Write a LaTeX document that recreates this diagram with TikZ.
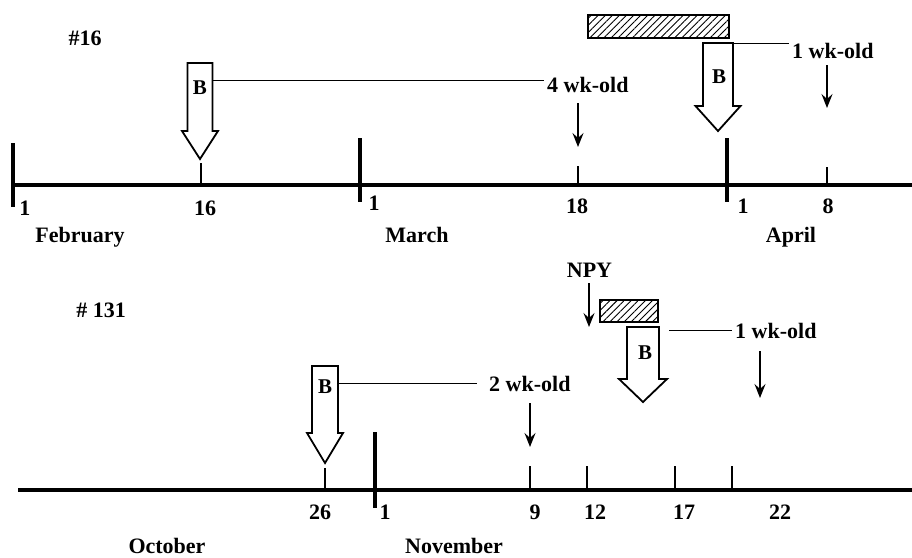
\documentclass[tikz,border=0pt]{standalone}
\usepackage{fontspec}
\setmainfont{Liberation Serif}
\usetikzlibrary{arrows.meta,patterns.meta}
\tikzset{
  axisline/.style={line width=4.5pt},
  bigtick/.style={line width=3.5pt},
  smalltick/.style={line width=1.5pt},
  hollow/.style={line width=1.8pt, fill=white, line join=miter},
  lead/.style={line width=1pt},
  pointer/.style={line width=1.6pt, -{Stealth[length=14pt,width=11pt,inset=5pt]}},
  hatch/.style={draw, line width=2pt, inner sep=0pt, anchor=north west,
    pattern={Lines[angle=45,distance=5pt,line width=0.9pt]}},
  lbl/.style={font=\bfseries\fontsize{22}{24}\selectfont, inner sep=0pt, anchor=base},
  lblw/.style={lbl, anchor=base west},
  bl/.style={font=\bfseries\fontsize{21}{23}\selectfont, inner sep=0pt, anchor=base}
}
\newcommand\hollowarrow[6]{% cx, top, shaft bottom, tip, half shaft, half head
  \draw[hollow] (#1-#5,#2) -- (#1+#5,#2) -- (#1+#5,#3) -- (#1+#6,#3) -- (#1,#4)
     -- (#1-#6,#3) -- (#1-#5,#3) -- cycle;}
\begin{document}
\begin{tikzpicture}[x=1pt,y=-1pt]
\useasboundingbox (0,0) rectangle (912,557);

% ===== Top: #16 =====
\node[lbl] (t16) at (85,45) {\#16};
\draw[axisline] (13,185) coordinate (ta0) -- (912,185) coordinate (ta1);
\draw[bigtick] (13,143) coordinate (tf1a) -- (13,207) coordinate (tf1b);
\draw[bigtick] (360,138) coordinate (tm1a) -- (360,202) coordinate (tm1b);
\draw[bigtick] (727,138) coordinate (tp1a) -- (727,202) coordinate (tp1b);
\draw[smalltick] (201,163) coordinate (t16a) -- (201,185);
\draw[smalltick] (578,166) coordinate (t18a) -- (578,185);
\draw[smalltick] (827,167) coordinate (t8a) -- (827,185);

\node[lbl] (n1f) at (25,215) {1};
\node[lbl] (n16) at (205,215) {16};
\node[lbl] (n1m) at (374,210) {1};
\node[lbl] (n18) at (577,213) {18};
\node[lbl] (n1a) at (743,213) {1};
\node[lbl] (n8) at (828,213) {8};
\node[lbl] (feb) at (80,242) {February};
\node[lbl] (mar) at (417,242) {March};
\node[lbl] (apr) at (791,242) {April};

% hatched bar
\node[hatch, minimum width=141pt, minimum height=23pt] (bar1) at (588,15) {};

% big arrow B (Feb 16)
\hollowarrow{200}{63}{131}{159}{12.5}{18}
\node[bl] (b1) at (200,94) {B};
\coordinate (b1r) at (212.5,80);
\node[lblw] (w4) at (547,92) {4 wk-old};
\coordinate (b1e) at (544,80);
\draw[lead] (b1r) -- (b1e);
\coordinate (p4a) at (578,103);
\coordinate (p4b) at (578,147);
\draw[pointer] (p4a) -- (p4b);

% big arrow B (March end)
\hollowarrow{718}{43}{106}{131}{15}{22.5}
\node[bl] (b2) at (719,83) {B};
\coordinate (b2r) at (733,43);
\node[lblw] (w1) at (792,58) {1 wk-old};
\coordinate (b2e) at (789,43);
\draw[lead] (b2r) -- (b2e);
\coordinate (p1a) at (827,65);
\coordinate (p1b) at (827,108);
\draw[pointer] (p1a) -- (p1b);

% ===== Bottom: # 131 =====
\node[lbl] (t131) at (101,317) {\# 131};
\draw[axisline] (18,490) coordinate (ba0) -- (912,490) coordinate (ba1);
\draw[bigtick] (375,432) coordinate (bn1a) -- (375,508) coordinate (bn1b);
\draw[smalltick] (325,468) coordinate (b26a) -- (325,490);
\draw[smalltick] (530,466) coordinate (b9a) -- (530,490);
\draw[smalltick] (587,466) coordinate (b12a) -- (587,490);
\draw[smalltick] (675,466) coordinate (b17a) -- (675,490);
\draw[smalltick] (732,466) coordinate (b22a) -- (732,490);

\node[lbl] (m26) at (320,519) {26};
\node[lbl] (m1) at (385,519) {1};
\node[lbl] (m9) at (535,519) {9};
\node[lbl] (m12) at (595,519) {12};
\node[lbl] (m17) at (684,519) {17};
\node[lbl] (m22) at (780,519) {22};
\node[lbl] (oct) at (167,553) {October};
\node[lbl] (nov) at (454,553) {November};

% hatched bar
\node[hatch, minimum width=58pt, minimum height=22pt] (bar2) at (599,299) {};

% NPY
\node[lbl] (npy) at (589.5,277) {NPY};
\coordinate (pna) at (589,283);
\coordinate (pnb) at (589,327);
\draw[pointer] (pna) -- (pnb);

% big arrow B (Oct 26)
\hollowarrow{325}{366}{433}{463}{13}{18}
\node[bl] (b3) at (325,393) {B};
\coordinate (b3r) at (338,383);
\node[lblw] (w2) at (489,391) {2 wk-old};
\coordinate (b3e) at (477,383);
\draw[lead] (b3r) -- (b3e);
\coordinate (p2a) at (530,403);
\coordinate (p2b) at (530,447);
\draw[pointer] (p2a) -- (p2b);

% big arrow B (Nov)
\hollowarrow{643}{327}{379}{402}{16}{24}
\node[bl] (b4) at (645,359) {B};
\coordinate (b4r) at (669,330);
\node[lblw] (w1b) at (735,338) {1 wk-old};
\coordinate (b4e) at (732,330);
\draw[lead] (b4r) -- (b4e);
\coordinate (p5a) at (760,351);
\coordinate (p5b) at (760,398);
\draw[pointer] (p5a) -- (p5b);
\end{tikzpicture}
\end{document}
